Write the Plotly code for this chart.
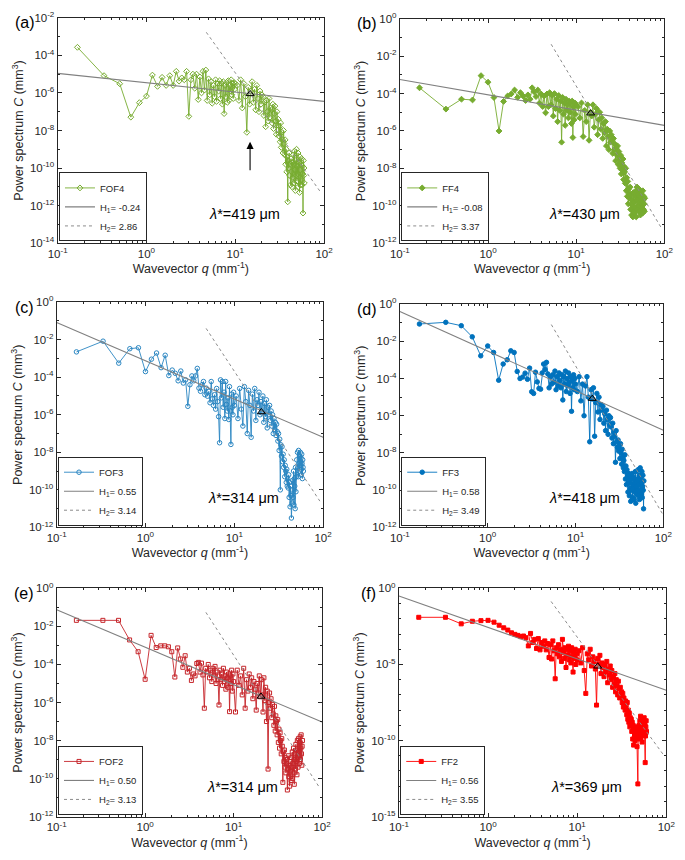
import plotly.graph_objects as go

# ---------------- data ----------------
q_grid = [
    0.167, 0.333, 0.5, 0.667, 0.833, 1.0, 1.167, 1.333, 1.5, 1.667,
    1.833, 2.0, 2.167, 2.333, 2.5, 2.667, 2.833, 3.0, 3.167, 3.333,
    3.5, 3.667, 3.833, 4.0, 4.167, 4.333, 4.5, 4.667, 4.833, 5.0,
    5.167, 5.333, 5.5, 5.667, 5.833, 6.0, 6.167, 6.333, 6.5, 6.667,
    6.833, 7.0, 7.167, 7.333, 7.5, 7.667, 7.833, 8.0, 8.167, 8.333,
    8.5, 8.667, 8.833, 9.0, 9.167, 9.333, 9.5, 9.667, 9.833, 10.0,
    10.5, 11.0, 11.5, 12.0, 12.5, 13.0, 13.5, 14.0, 14.5, 15.0,
    15.5, 16.0, 16.5, 17.0, 17.5, 18.0, 18.5, 19.0, 19.5, 20.0,
    20.5, 21.0, 21.5, 22.0, 22.5, 23.0, 23.5, 24.0, 24.5, 25.0,
    25.5, 26.0, 26.5, 27.0, 27.5, 28.0, 28.5, 29.0, 29.5, 30.0,
    30.5, 31.0, 31.5, 32.0, 32.5, 33.0, 33.5, 34.0, 34.5, 35.0,
    35.5, 36.0, 36.5, 37.0, 37.5, 38.0, 38.5, 39.0, 39.5, 40.0,
    40.5, 41.0, 41.5, 42.0, 42.5, 43.0, 43.5, 44.0, 44.5, 45.0,
    45.5, 46.0, 46.5, 47.0, 47.5, 48.0, 48.5, 49.0, 49.5, 50.0,
    50.5, 51.0, 51.5, 52.0, 52.5, 53.0, 53.5, 54.0, 54.5, 55.0,
    55.5, 56.0, 56.5, 57.0, 57.5, 58.0, 58.5, 59.0, 59.5, 60.0,
]

# log10 of power spectrum C (mm^3), one value per q_grid entry
fof4_logC = [
    -3.57, -5.08, -5.51, -7.29, -6.52, -6.17, -5.05, -5.65, -5.17, -5.6,
    -5.08, -5.6, -4.85, -5.37, -5.2, -5.3, -4.85, -7.25, -5.3, -5.0,
    -5.75, -5.0, -6.35, -5.15, -6.0, -4.85, -5.85, -4.78, -6.4, -5.25,
    -6.1, -5.4, -6.55, -5.6, -6.2, -5.3, -6.45, -5.5, -5.9, -5.35,
    -6.3, -5.5, -6.6, -5.4, -7.1, -5.6, -6.2, -5.45, -6.5, -5.35,
    -6.4, -5.6, -5.9, -5.3, -6.1, -5.5, -6.3, -5.45, -5.8, -5.5,
    -5.6, -6.4, -5.3, -6.8, -5.5, -6.2, -8.1, -5.7, -6.6, -5.9,
    -5.4, -6.5, -5.8, -6.9, -5.6, -6.3, -7.0, -5.9, -6.6, -6.1,
    -6.2, -7.2, -6.5, -7.8, -6.4, -7.0, -7.5, -6.3, -7.3, -6.8,
    -6.9, -7.6, -6.6, -7.9, -7.1, -6.7, -7.5, -8.2, -7.0, -7.7,
    -7.4, -8.3, -7.8, -8.6, -7.6, -8.9, -8.1, -8.5, -9.2, -8.0,
    -8.7, -9.3, -8.5, -9.8, -9.0, -10.2, -9.4, -11.8, -9.6, -10.0,
    -9.2, -10.4, -9.8, -10.9, -9.5, -10.2, -11.0, -9.7, -10.5, -9.3,
    -9.8, -10.8, -9.1, -10.1, -11.2, -9.6, -10.4, -9.0, -10.7, -9.9,
    -10.3, -9.2, -11.0, -9.7, -10.5, -11.3, -9.4, -10.1, -10.9, -9.8,
    -10.6, -9.5, -10.9, -9.9, -10.3, -12.4, -9.6, -10.4, -10.0, -10.8,
]
ff4_logC = [
    -3.69, -4.83, -4.3, -4.34, -3.04, -3.39, -4.21, -6.0, -4.42, -4.13,
    -4.02, -3.81, -4.2, -3.95, -4.13, -4.37, -4.07, -4.3, -3.69, -3.9,
    -4.16, -3.81, -4.51, -4.02, -4.69, -4.13, -5.03, -4.02, -4.7, -3.95,
    -4.6, -4.1, -5.2, -4.0, -4.8, -4.3, -5.5, -4.1, -4.9, -4.4,
    -6.6, -4.2, -5.1, -4.5, -5.7, -4.3, -4.9, -4.6, -5.3, -4.4,
    -5.0, -4.5, -5.6, -4.4, -6.35, -4.7, -5.4, -4.5, -5.1, -4.6,
    -4.7, -5.3, -4.5, -6.3, -4.9, -5.5, -4.6, -6.5, -5.0, -5.2,
    -4.6, -5.8, -5.1, -4.8, -6.2, -5.4, -5.0, -5.9, -5.3, -6.4,
    -5.6, -6.1, -5.5, -6.8, -5.9, -6.3, -7.0, -6.0, -6.6, -6.2,
    -6.5, -7.2, -6.4, -7.0, -6.7, -7.6, -6.9, -7.3, -6.8, -7.8,
    -7.1, -7.5, -8.0, -7.3, -8.3, -7.7, -8.1, -7.5, -8.6, -7.9,
    -8.2, -8.8, -8.0, -9.2, -8.5, -9.5, -8.7, -9.9, -9.1, -9.4,
    -9.6, -9.0, -10.2, -9.4, -10.5, -9.7, -10.0, -10.6, -9.3, -10.3,
    -9.8, -10.4, -9.5, -10.1, -9.2, -10.6, -9.7, -9.0, -10.2, -9.4,
    -9.6, -10.0, -9.1, -10.3, -9.5, -9.8, -10.5, -9.3, -9.9, -10.1,
    -9.4, -9.8, -10.4, -9.2, -9.7, -10.2, -9.5, -9.9, -10.3, -9.6,
]
fof3_logC = [
    -2.65, -2.08, -3.25, -2.48, -2.43, -3.7, -3.04, -2.71, -3.49, -2.83,
    -3.91, -3.62, -3.79, -4.19, -3.67, -4.31, -4.14, -5.55, -4.4, -3.93,
    -4.19, -3.93, -3.53, -4.58, -4.75, -4.4, -4.23, -4.93, -4.58, -5.01,
    -4.75, -5.36, -4.23, -5.15, -5.5, -4.93, -5.7, -4.6, -5.3, -6.1,
    -7.49, -4.14, -5.1, -4.23, -5.6, -4.8, -6.2, -4.23, -5.45, -5.8,
    -5.1, -6.25, -4.5, -5.8, -7.58, -4.9, -5.6, -6.0, -4.8, -5.5,
    -5.0, -6.2, -4.6, -5.7, -6.6, -4.5, -5.3, -7.0, -4.7, -5.5,
    -7.2, -4.9, -5.8, -4.6, -6.3, -5.2, -5.5, -4.8, -6.0, -5.3,
    -5.9, -5.0, -6.4, -5.4, -6.1, -5.2, -6.7, -5.6, -6.0, -5.5,
    -6.3, -5.8, -6.6, -6.0, -7.0, -6.2, -6.8, -6.4, -7.1, -6.5,
    -6.9, -7.4, -7.0, -7.9, -7.3, -10.0, -7.6, -8.2, -7.7, -8.5,
    -8.1, -8.8, -8.4, -9.3, -8.7, -9.0, -9.6, -8.9, -9.8, -9.4,
    -9.9, -9.2, -10.4, -9.6, -10.9, -9.8, -10.3, -11.5, -10.0, -10.7,
    -9.5, -10.4, -9.0, -10.8, -9.4, -9.8, -11.0, -8.8, -10.1, -9.3,
    -8.4, -9.2, -8.0, -8.8, -9.3, -7.9, -8.6, -9.0, -8.2, -8.7,
    -8.0, -8.9, -8.3, -9.2, -8.1, -8.6, -9.4, -8.4, -8.8, -9.0,
]
ff3_logC = [
    -1.07, -0.98, -1.16, -1.76, -2.78, -2.25, -2.6, -4.09, -3.22, -2.99,
    -2.51, -2.6, -3.62, -4.0, -3.92, -3.71, -4.04, -3.44, -4.71, -4.8,
    -3.66, -4.18, -4.53, -4.57, -3.7, -3.22, -3.51, -3.13, -3.75, -4.5,
    -3.9, -4.3, -3.8, -4.2, -3.6, -4.6, -3.9, -4.4, -3.7, -4.1,
    -4.5, -3.8, -5.15, -3.9, -4.3, -3.6, -4.7, -4.0, -4.4, -3.7,
    -4.2, -4.8, -3.9, -5.76, -4.1, -4.5, -3.8, -4.6, -4.0, -4.3,
    -4.7, -3.9, -5.2, -4.3, -6.0, -4.4, -3.9, -5.0, -7.4, -4.6,
    -5.1, -4.5, -7.1, -5.3, -4.8, -5.8, -5.0, -6.2, -5.4, -5.7,
    -5.5, -6.4, -5.9, -6.8, -5.7, -6.2, -7.0, -6.0, -6.5, -6.1,
    -6.6, -7.2, -6.4, -7.5, -6.9, -7.1, -8.5, -6.8, -7.4, -7.7,
    -7.3, -7.9, -7.6, -8.3, -7.5, -8.0, -8.6, -7.8, -8.2, -8.8,
    -8.4, -9.0, -8.1, -9.4, -8.7, -9.7, -8.9, -9.3, -10.1, -9.1,
    -9.6, -10.3, -9.2, -9.9, -10.6, -9.4, -10.0, -9.1, -10.4, -9.7,
    -9.9, -9.3, -10.5, -9.6, -10.1, -9.0, -10.7, -9.5, -9.8, -10.2,
    -9.4, -10.0, -8.9, -10.3, -9.7, -9.2, -10.5, -9.5, -8.8, -10.1,
    -9.3, -10.2, -9.6, -9.0, -10.4, -9.8, -9.2, -10.0, -11.0, -9.5,
]
fof2_logC = [
    -1.68, -1.68, -1.68, -2.71, -3.33, -4.78, -2.47, -3.11, -3.02, -3.02,
    -3.07, -3.33, -4.66, -3.13, -3.71, -4.15, -3.54, -4.4, -4.2, -4.84,
    -4.5, -4.6, -3.95, -3.89, -4.4, -3.93, -4.55, -6.3, -4.2, -4.4,
    -4.0, -4.7, -4.3, -4.9, -4.2, -4.6, -4.1, -5.0, -4.4, -4.8,
    -6.13, -4.3, -4.8, -4.5, -5.1, -4.2, -4.9, -4.6, -5.3, -4.4,
    -4.7, -5.2, -4.5, -6.48, -4.6, -5.0, -4.3, -5.4, -4.5, -4.9,
    -6.5, -4.3, -5.1, -4.6, -5.6, -4.2, -6.3, -4.8, -5.4, -4.5,
    -5.2, -4.7, -5.8, -4.9, -5.3, -6.4, -5.0, -5.5, -4.6, -5.7,
    -4.8, -5.6, -6.5, -4.7, -5.9, -5.2, -7.0, -5.4, -9.5, -6.0,
    -5.5, -6.3, -5.8, -6.8, -6.1, -6.6, -7.2, -6.2, -7.5, -6.7,
    -7.0, -7.7, -6.9, -8.1, -7.4, -8.4, -7.6, -8.0, -8.7, -7.9,
    -8.3, -10.2, -8.6, -9.1, -8.5, -9.4, -8.9, -9.7, -9.2, -9.0,
    -10.6, -9.5, -8.8, -9.9, -9.3, -10.4, -9.1, -9.6, -10.1, -8.9,
    -9.4, -8.6, -10.0, -9.2, -8.4, -9.7, -10.3, -9.0, -8.7, -9.5,
    -8.2, -9.1, -8.5, -9.8, -8.0, -8.9, -9.4, -7.9, -8.6, -9.2,
    -8.1, -8.8, -7.8, -9.0, -8.4, -7.7, -8.7, -9.3, -8.3, -8.0,
]
ff2_logC = [
    -1.9, -1.9, -2.33, -2.16, -2.12, -2.1, -2.22, -2.42, -2.59, -2.74,
    -2.92, -3.02, -3.09, -3.17, -3.13, -3.24, -3.78, -2.96, -3.56, -3.35,
    -3.95, -3.3, -4.04, -3.56, -3.8, -3.45, -4.04, -3.62, -4.54, -3.7,
    -4.64, -3.45, -4.1, -5.94, -3.9, -4.3, -3.7, -4.5, -4.0, -4.8,
    -3.35, -4.2, -4.6, -3.9, -5.2, -4.0, -4.4, -3.8, -4.7, -4.1,
    -4.9, -3.9, -4.5, -5.5, -4.2, -4.6, -4.0, -5.0, -4.3, -4.7,
    -4.1, -4.9, -3.9, -5.4, -6.9, -4.3, -4.7, -4.0, -5.1, -4.5,
    -4.8, -5.3, -7.67, -4.6, -5.0, -4.4, -5.6, -4.9, -5.2, -5.8,
    -5.0, -5.5, -4.8, -6.2, -5.3, -5.7, -5.1, -6.0, -5.4, -6.5,
    -5.8, -6.3, -5.6, -6.8, -6.0, -6.4, -7.0, -6.1, -6.6, -7.2,
    -6.5, -7.0, -6.8, -7.5, -6.9, -7.8, -7.2, -7.6, -8.0, -7.4,
    -7.7, -8.3, -7.5, -8.6, -8.0, -8.8, -8.2, -9.1, -8.5, -8.9,
    -8.6, -9.4, -8.8, -9.9, -9.0, -10.3, -9.2, -9.6, -10.0, -9.3,
    -9.5, -9.8, -9.1, -10.4, -9.6, -12.85, -9.3, -9.9, -9.0, -9.7,
    -8.7, -9.4, -8.4, -9.8, -8.9, -9.2, -10.1, -8.6, -9.5, -9.0,
    -8.8, -9.6, -8.5, -9.3, -8.9, -11.45, -9.7, -9.1, -8.7, -9.4,
]

series_names = ["FOF4", "FF4", "FOF3", "FF3", "FOF2", "FF2"]
series_logC = [fof4_logC, ff4_logC, fof3_logC, ff3_logC, fof2_logC, ff2_logC]
panel_labels = ["(a)", "(b)", "(c)", "(d)", "(e)", "(f)"]
H1_values = ["-0.24", "-0.08", "0.55", "0.58", "0.50", "0.56"]
H2_values = ["2.86", "3.37", "3.14", "3.49", "3.13", "3.55"]
lambda_star_um = [419, 430, 314, 418, 314, 369]

# fit lines: [q_start, q_end] and log10 C at those ends
fit1_q = [0.1, 100]
fit1_logC = [(-4.96, -6.45), (-3.25, -5.7), (-1.08, -7.2), (-0.4, -6.78), (-1.12, -7.03), (-0.5, -6.7)]
fit2_q = [(4.72, 90.4), (5.2, 92.6), (4.82, 92.0), (5.3, 100.0), (4.86, 92.8), (5.1, 92.0)]
fit2_logC = [(-2.77, -11.25), (-1.36, -11.19), (-1.4, -10.6), (-1.1, -11.35), (-1.26, -10.45), (-0.86, -10.9)]
# crossover markers (triangles)
tri_q = [14.7, 14.6, 20.2, 15.5, 20.4, 17.0]
tri_logC = [-6.05, -5.05, -5.85, -5.08, -5.68, -5.12]

# y-axis ranges (log10) and major tick exponents
y_ranges = [(-14, -2), (-12, 0), (-12, 0), (-12, 0), (-12, 0), (-15, 0)]
y_tick_exps = [list(range(-14, -1, 2)), list(range(-12, 1, 2)), list(range(-12, 1, 2)),
               list(range(-12, 1, 2)), list(range(-12, 1, 2)), [-15, -10, -5, 0]]
x_tick_exps = [-1, 0, 1, 2]

# ---------------- styles ----------------
colors = ["#77AC30", "#77AC30", "#2A86C2", "#0072BD", "#C6262B", "#FF0000"]
symbols = ["diamond-open", "diamond", "circle-open", "circle", "square-open", "square"]
msizes = [4.5, 4.5, 4.5, 4.5, 4, 4]

W, H = 685, 860
# plot-area pixel boxes (left, right, top, bottom)
boxes = [(49, 323, 10, 239), (401, 673, 11, 239),
         (48, 322, 299, 528), (401, 672, 301, 528),
         (48, 321, 590, 822), (400, 675, 590, 822)]

FONT = "Arial, Liberation Sans, sans-serif"
AXC = "#262626"

fig = go.Figure()
layout = dict(
    width=W, height=H, margin=dict(l=0, r=0, t=0, b=0),
    paper_bgcolor="white", plot_bgcolor="white",
    font=dict(family=FONT, size=10, color=AXC),
    showlegend=True,
)
annotations = []


def minor_vals(lo, hi):
    vals = []
    for e in range(lo, hi):
        for m in range(1, 10):
            vals.append(m * 10.0 ** e)
    return vals


for i in range(6):
    n = i + 1
    xa = "x" if n == 1 else f"x{n}"
    ya = "y" if n == 1 else f"y{n}"
    lg = "legend" if n == 1 else f"legend{n}"
    L, R, T, B = boxes[i]
    xdom = [L / W, R / W]
    ydom = [1 - B / H, 1 - T / H]
    ylo, yhi = y_ranges[i]

    Cvals = [10 ** v for v in series_logC[i]]
    fig.add_trace(go.Scatter(
        x=q_grid, y=Cvals, mode="lines+markers", name=series_names[i],
        xaxis=xa, yaxis=ya, legend=lg,
        line=dict(color=colors[i], width=0.9),
        marker=dict(symbol=symbols[i], size=msizes[i], color=colors[i],
                    line=dict(color=colors[i], width=1)),
    ))
    fig.add_trace(go.Scatter(
        x=fit1_q, y=[10 ** v for v in fit1_logC[i]], mode="lines",
        name=f"H<sub>1</sub>= {H1_values[i]}", xaxis=xa, yaxis=ya, legend=lg,
        line=dict(color="#808080", width=1.1),
    ))
    fig.add_trace(go.Scatter(
        x=list(fit2_q[i]), y=[10 ** v for v in fit2_logC[i]], mode="lines",
        name=f"H<sub>2</sub>= {H2_values[i]}", xaxis=xa, yaxis=ya, legend=lg,
        line=dict(color="#8c8c8c", width=1, dash="3px,3px"),
    ))
    fig.add_trace(go.Scatter(
        x=[tri_q[i]], y=[10 ** tri_logC[i]], mode="markers", showlegend=False,
        xaxis=xa, yaxis=ya,
        marker=dict(symbol="triangle-up-open", size=7, color="black",
                    line=dict(color="black", width=1)),
    ))

    xkey = "xaxis" if n == 1 else f"xaxis{n}"
    ykey = "yaxis" if n == 1 else f"yaxis{n}"
    layout[xkey] = dict(
        domain=xdom, anchor=ya, type="log", range=[-1, 2],
        tickmode="array", tickvals=[10.0 ** e for e in x_tick_exps],
        ticktext=[f"10<sup>{e}</sup>" for e in x_tick_exps],
        ticks="inside", ticklen=4, tickcolor=AXC, mirror="allticks",
        showline=True, linecolor=AXC, linewidth=1, showgrid=False, zeroline=False,
        tickfont=dict(size=11.5, color=AXC),
        minor=dict(tickmode="array", tickvals=minor_vals(-1, 2), ticks="inside",
                   ticklen=2, tickcolor=AXC, showgrid=False),
        title=dict(text="Wavevector <i>q</i> (mm<sup>-1</sup>)",
                   font=dict(size=12.5, color=AXC), standoff=1),
    )
    layout[ykey] = dict(
        domain=ydom, anchor=xa, type="log", range=[ylo, yhi],
        tickmode="array", tickvals=[10.0 ** e for e in y_tick_exps[i]],
        ticktext=[f"10<sup>{e}</sup>" for e in y_tick_exps[i]],
        ticks="inside", ticklen=4, tickcolor=AXC, mirror="allticks",
        showline=True, linecolor=AXC, linewidth=1, showgrid=False, zeroline=False,
        tickfont=dict(size=11.5, color=AXC),
        minor=dict(tickmode="array", tickvals=[10.0 ** e for e in range(ylo, yhi + 1)],
                   ticks="inside", ticklen=2, tickcolor=AXC, showgrid=False),
        title=dict(text="Power spectrum <i>C</i> (mm<sup>3</sup>)",
                   font=dict(size=12.5, color=AXC), standoff=3),
    )
    layout[lg] = dict(
        x=xdom[0] + 0.002, y=ydom[0] + 0.002, xanchor="left", yanchor="bottom",
        bgcolor="white", bordercolor=AXC, borderwidth=1,
        font=dict(size=9.5, color=AXC), itemwidth=30, tracegroupgap=0,
        traceorder="normal",
    )
    # lambda* annotation
    annotations.append(dict(
        xref="paper", yref="paper",
        x=xdom[0] + 0.70 * (xdom[1] - xdom[0]),
        y=ydom[0] + 0.13 * (ydom[1] - ydom[0]),
        text=f"<i>λ</i>*={lambda_star_um[i]} μm", showarrow=False,
        font=dict(size=14.5, color="black"), xanchor="center", yanchor="middle",
    ))
    # panel label
    annotations.append(dict(
        xref="paper", yref="paper", x=(L - 21) / W, y=1 - (T + 5) / H,
        text=panel_labels[i], showarrow=False, xanchor="right", yanchor="middle",
        font=dict(size=16, color="black"),
    ))

# arrow in panel (a) pointing at the crossover wavevector
annotations.append(dict(
    xref="x", yref="y", axref="x", ayref="y",
    x=1.167, y=-8.6, ax=1.167, ay=-10.2, text="", showarrow=True,
    arrowhead=2, arrowsize=1.3, arrowwidth=1.1, arrowcolor="black",
))

layout["annotations"] = annotations
fig.update_layout(**layout)
fig.write_html("out.html", config={"displayModeBar": False},
               post_script="document.body.style.margin='0px';")
